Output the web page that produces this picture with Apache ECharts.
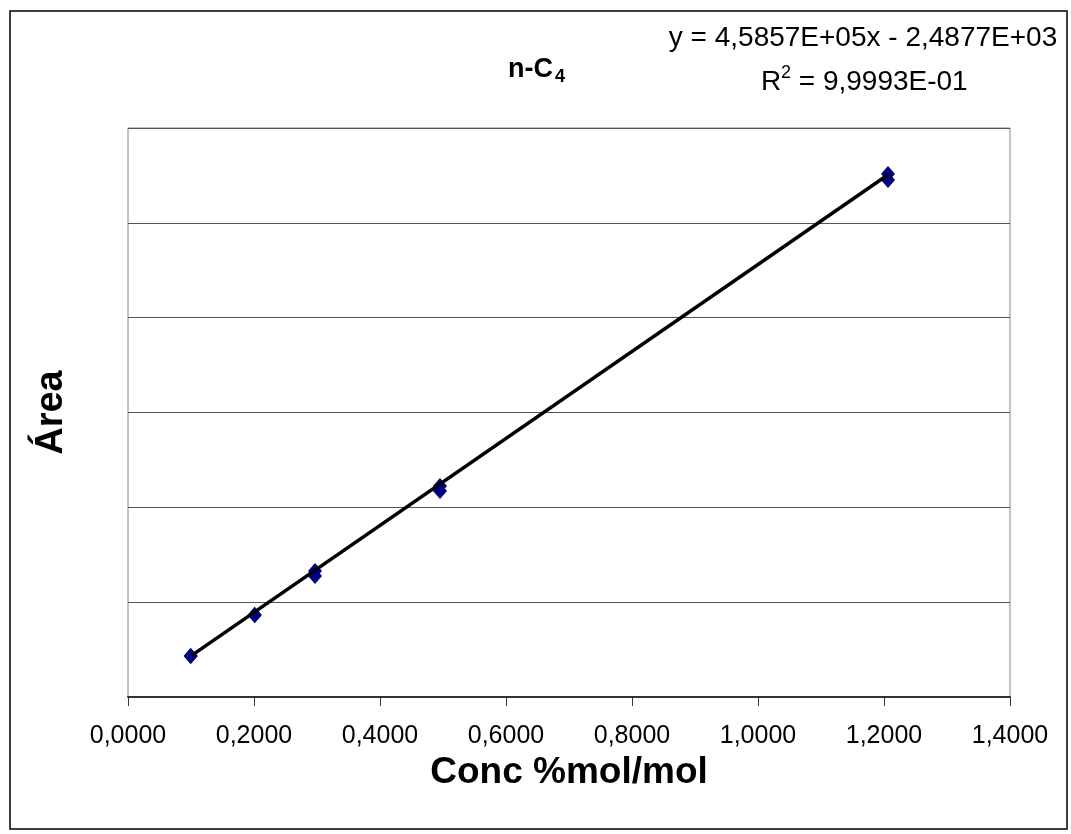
<!DOCTYPE html>
<html>
<head>
<meta charset="utf-8">
<script src="https://cdn.jsdelivr.net/npm/echarts@6/dist/echarts.min.js"></script>
<style>
  html, body { margin: 0; padding: 0; background: #fff; }
  #chart { width: 1071px; height: 834px; }
</style>
</head>
<body>
<div id="chart"></div>
<script>
// calibration points (duplicates at each level)
const concX = [0.0995, 0.0995, 0.2011, 0.2011, 0.2968, 0.2968, 0.4952, 0.4952, 1.2063, 1.2063];
const areaY = [43200, 43300, 86300, 86600, 132900, 127600, 222500, 217200, 551500, 545200];
// trendline ends
const trendX = [0.0995, 1.2063];
const trendY = [43140, 550680];
const xTicks = [0, 0.2, 0.4, 0.6, 0.8, 1.0, 1.2, 1.4];

const points = concX.map((x, i) => [x, areaY[i]]);
const trend = trendX.map((x, i) => [x, trendY[i]]);

const font = 'Liberation Sans, Arial, sans-serif';

echarts.init(document.getElementById('chart')).setOption({
    animation: false,
    backgroundColor: '#fff',
    grid: {
        left: 128,
        right: 61,
        top: 128,
        bottom: 137,
        show: true,
        borderColor: '#888',
        borderWidth: 1
    },
    xAxis: {
        type: 'value',
        min: xTicks[0],
        max: xTicks[xTicks.length - 1],
        interval: 0.2,
        name: 'Conc %mol/mol',
        nameLocation: 'middle',
        nameGap: 52,
        nameTextStyle: { fontFamily: font, fontSize: 37, fontWeight: 'bold', color: '#000' },
        axisLine: { lineStyle: { color: '#333', width: 2 } },
        axisTick: { show: true, length: 9, lineStyle: { color: '#333', width: 1 } },
        axisLabel: {
            fontFamily: font,
            fontSize: 25,
            color: '#000',
            margin: 27,
            formatter: v => v.toFixed(4).replace('.', ',')
        },
        splitLine: { show: false }
    },
    yAxis: {
        type: 'value',
        min: 0,
        max: 600000,
        interval: 100000,
        name: 'Área',
        nameLocation: 'middle',
        nameGap: 57,
        nameRotate: 90,
        nameTextStyle: { fontFamily: font, fontSize: 38, fontWeight: 'bold', color: '#000' },
        axisLine: { show: false },
        axisTick: { show: false },
        axisLabel: { show: false },
        splitLine: { show: true, lineStyle: { color: '#555', width: 1 } }
    },
    graphic: [
        {
            type: 'rect',
            shape: { x: 10, y: 11, width: 1057, height: 818 },
            style: { fill: 'none', stroke: '#000', lineWidth: 1.5 },
            silent: true
        },
        {
            type: 'text', left: 508, top: 56,
            style: { text: 'n-C', font: 'bold 27px ' + font, fill: '#000' }
        },
        {
            type: 'text', left: 555, top: 68,
            style: { text: '4', font: 'bold 18px ' + font, fill: '#000' }
        },
        {
            type: 'text', x: 863, y: 38,
            style: { text: 'y = 4,5857E+05x - 2,4877E+03', font: '28px ' + font, fill: '#000', align: 'center', verticalAlign: 'middle' }
        },
        {
            type: 'text', x: 761, y: 82,
            style: { text: 'R', font: '28px ' + font, fill: '#000', verticalAlign: 'middle' }
        },
        {
            type: 'text', x: 781, y: 73,
            style: { text: '2', font: '18px ' + font, fill: '#000', verticalAlign: 'middle' }
        },
        {
            type: 'text', x: 791, y: 82,
            style: { text: ' = 9,9993E-01', font: '28px ' + font, fill: '#000', verticalAlign: 'middle' }
        }
    ],
    series: [
        {
            type: 'line',
            data: trend,
            symbol: 'none',
            lineStyle: { color: '#000', width: 3.5 },
            z: 3
        },
        {
            type: 'scatter',
            data: points,
            symbol: 'diamond',
            symbolSize: [14, 16],
            itemStyle: { color: '#000080', opacity: 1 },
            z: 2
        }
    ]
});
</script>
</body>
</html>
